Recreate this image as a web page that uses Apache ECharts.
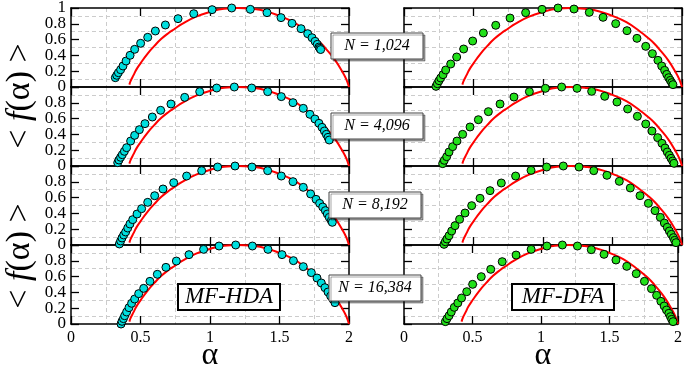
<!DOCTYPE html>
<html><head><meta charset="utf-8">
<script src="https://cdn.jsdelivr.net/npm/echarts@6/dist/echarts.min.js"></script>
<style>html,body{margin:0;padding:0;background:#fff}#c{width:685px;height:375px}</style>
</head><body><div id="c"></div>
<script>
// Theoretical curve (red)
const redAlpha = [0.42,0.43,0.45,0.47,0.5,0.55,0.6,0.65,0.7,0.75,0.8,0.9,1.0,1.1,1.2,1.3,1.4,1.5,1.6,1.7,1.75,1.8,1.85,1.9,1.95,1.98,2.0];
const redF     = [0.03,0.08,0.15,0.22,0.30,0.42,0.52,0.61,0.68,0.74,0.80,0.89,0.95,0.99,1.0,0.99,0.96,0.90,0.82,0.70,0.63,0.55,0.45,0.34,0.20,0.10,0.0];

// MF-HDA (cyan)
const hda1024A = [0.319,0.329,0.341,0.357,0.374,0.396,0.425,0.458,0.501,0.552,0.607,0.679,0.770,0.883,1.015,1.156,1.290,1.410,1.511,1.590,1.655,1.703,1.734,1.756,1.772,1.784,1.790,1.796];
const hda1024F = [0.118,0.148,0.181,0.219,0.266,0.329,0.401,0.477,0.553,0.629,0.709,0.785,0.865,0.928,0.979,1.0,0.983,0.941,0.878,0.806,0.738,0.675,0.624,0.578,0.540,0.506,0.490,0.474];
const hda4096A = [0.336,0.345,0.357,0.369,0.384,0.400,0.429,0.458,0.492,0.532,0.585,0.645,0.719,0.818,0.926,1.048,1.175,1.300,1.415,1.513,1.597,1.671,1.719,1.755,1.784,1.806,1.823,1.837,1.849,1.858];
const hda4096F = [0.042,0.076,0.110,0.143,0.186,0.232,0.316,0.388,0.460,0.536,0.620,0.705,0.785,0.869,0.941,0.987,1.0,0.987,0.941,0.878,0.802,0.730,0.654,0.595,0.540,0.489,0.443,0.401,0.363,0.329];
const hda8192A = [0.348,0.357,0.367,0.379,0.393,0.408,0.424,0.444,0.475,0.508,0.552,0.602,0.662,0.739,0.832,0.940,1.055,1.180,1.302,1.415,1.513,1.597,1.671,1.724,1.763,1.789,1.811,1.830,1.844,1.858,1.873,1.880];
const hda8192F = [0.013,0.051,0.089,0.127,0.165,0.215,0.266,0.321,0.392,0.460,0.540,0.624,0.709,0.789,0.873,0.941,0.987,1.0,0.987,0.941,0.873,0.802,0.730,0.646,0.578,0.527,0.481,0.435,0.392,0.350,0.308,0.287];
const hda16384A = [0.360,0.367,0.377,0.386,0.400,0.417,0.436,0.458,0.487,0.523,0.568,0.621,0.683,0.758,0.849,0.954,1.065,1.185,1.305,1.417,1.518,1.600,1.671,1.729,1.770,1.801,1.827,1.849,1.868,1.885,1.899];
const hda16384F = [0.0,0.034,0.068,0.105,0.152,0.207,0.262,0.316,0.384,0.451,0.540,0.629,0.717,0.797,0.878,0.945,0.987,1.0,0.987,0.945,0.878,0.802,0.726,0.650,0.582,0.519,0.460,0.405,0.354,0.312,0.270];

// MF-DFA (green)
const dfa1024A = [0.230,0.240,0.252,0.264,0.281,0.300,0.336,0.379,0.429,0.494,0.571,0.660,0.763,0.875,0.993,1.108,1.223,1.333,1.432,1.523,1.604,1.676,1.739,1.787,1.827,1.854,1.875,1.890,1.904,1.916,1.926,1.935];
const dfa1024F = [0.008,0.042,0.080,0.114,0.156,0.215,0.291,0.380,0.481,0.582,0.684,0.781,0.873,0.941,0.983,1.0,0.987,0.945,0.882,0.802,0.713,0.616,0.515,0.422,0.338,0.266,0.211,0.160,0.118,0.084,0.055,0.030];
const dfa4096A = [0.278,0.290,0.307,0.324,0.350,0.381,0.422,0.475,0.535,0.607,0.691,0.791,0.902,1.017,1.134,1.245,1.350,1.444,1.532,1.609,1.679,1.739,1.784,1.825,1.856,1.878,1.894,1.909,1.921,1.933,1.942];
const dfa4096F = [0.030,0.072,0.118,0.177,0.245,0.316,0.401,0.494,0.586,0.688,0.785,0.873,0.941,0.983,1.0,0.983,0.945,0.882,0.810,0.722,0.629,0.532,0.443,0.359,0.287,0.228,0.177,0.135,0.097,0.063,0.034];
const dfa8192A = [0.288,0.297,0.309,0.324,0.343,0.367,0.400,0.439,0.487,0.547,0.619,0.700,0.803,0.914,1.026,1.146,1.259,1.365,1.460,1.549,1.628,1.698,1.758,1.806,1.844,1.873,1.894,1.909,1.923,1.938,1.947,1.957];
const dfa8192F = [0.008,0.042,0.076,0.118,0.177,0.245,0.325,0.405,0.498,0.591,0.688,0.785,0.873,0.945,0.987,1.0,0.987,0.941,0.882,0.806,0.722,0.624,0.527,0.435,0.350,0.278,0.224,0.177,0.135,0.093,0.059,0.030];
const dfa16384A = [0.302,0.314,0.329,0.345,0.367,0.393,0.420,0.458,0.501,0.564,0.633,0.717,0.818,0.928,1.043,1.156,1.266,1.367,1.460,1.547,1.626,1.695,1.755,1.806,1.844,1.875,1.899,1.916,1.933,1.945,1.954,1.964];
const dfa16384F = [0.030,0.068,0.105,0.152,0.211,0.266,0.329,0.409,0.502,0.599,0.692,0.789,0.873,0.945,0.987,1.0,0.987,0.941,0.882,0.810,0.730,0.637,0.540,0.447,0.363,0.287,0.228,0.177,0.135,0.093,0.059,0.030];

// Tick labels
const yTickValues = [0, 0.2, 0.4, 0.6, 0.8, 1];
const yTickLabels = ['0', '0.2', '0.4', '0.6', '0.8', '1'];

const sizeLabels = ['N = 1,024','N = 4,096','N = 8,192','N = 16,384'];
const methodLabels = ['MF-HDA','MF-DFA'];
const xLabelText = 'α';

const columns = [
  {color:'#00dede', sets:[[hda1024A,hda1024F],[hda4096A,hda4096F],[hda8192A,hda8192F],[hda16384A,hda16384F]]},
  {color:'#22e01a', sets:[[dfa1024A,dfa1024F],[dfa4096A,dfa4096F],[dfa8192A,dfa8192F],[dfa16384A,dfa16384F]]}
];
const zip = (a,b)=>a.map((v,i)=>[v,b[i]]);

const FONT = 'Liberation Serif';
const LEFTS = [71,404], TOP0 = 8, H = 79, W = 278;
const grids=[], xAxes=[], yAxes=[], series=[];
const lineCol = {color:'#000', width:1.5};
const tick = {show:true, inside:true, length:8, lineStyle:{color:'#000', width:1.3}};
const minorGrid = {show:true, lineStyle:{color:'#cccccc', width:1, type:[4,3]}};

for (let c=0;c<2;c++){
  for (let r=0;r<4;r++){
    const gi = grids.length;
    grids.push({left:LEFTS[c], top:TOP0+r*H, width:W, height:H});
    xAxes.push({type:'value', gridIndex:gi, position:'bottom', min:0, max:2, interval:0.5,
      axisLine:{show:true, onZero:false, lineStyle:lineCol}, axisTick:tick,
      minorTick:{show:true, splitNumber:2, length:0}, minorSplitLine:minorGrid,
      splitLine:{show:false},
      axisLabel:{show:r===3, showMinLabel:true, showMaxLabel:true, hideOverlap:false,
        fontFamily:FONT, fontSize:16, color:'#000', margin:6,
        formatter:v=>String(Math.round(v*10)/10)}});
    xAxes.push({type:'value', gridIndex:gi, position:'top', min:0, max:2, interval:0.5,
      axisLine:{show:true, onZero:false, lineStyle:lineCol}, axisTick:tick,
      splitLine:{show:false}, axisLabel:{show:false}});
    yAxes.push({type:'value', gridIndex:gi, position:'left', min:0, max:1, interval:0.2,
      axisLine:{show:true, onZero:false, lineStyle:lineCol}, axisTick:tick,
      minorTick:{show:true, splitNumber:2, length:0}, minorSplitLine:minorGrid,
      splitLine:{show:false}, axisLabel:{show:false}});
    yAxes.push({type:'value', gridIndex:gi, position:'right', min:0, max:1, interval:0.2,
      axisLine:{show:true, onZero:false, lineStyle:lineCol}, axisTick:tick,
      splitLine:{show:false}, axisLabel:{show:false}});
    series.push({type:'line', xAxisIndex:2*gi, yAxisIndex:2*gi, data:zip(redAlpha,redF),
      smooth:true, showSymbol:false, lineStyle:{color:'#ff0000', width:2}, z:2, silent:true});
    const s = columns[c].sets[r];
    series.push({type:'scatter', xAxisIndex:2*gi, yAxisIndex:2*gi, data:zip(s[0],s[1]),
      symbolSize:8, itemStyle:{color:columns[c].color, borderColor:'#000', borderWidth:1, opacity:1}, z:3, silent:true});
  }
}

const chart = echarts.init(document.getElementById('c'), null, {renderer:'canvas'});
chart.setOption({animation:false, backgroundColor:'#fff', grid:grids, xAxis:xAxes, yAxis:yAxes, series:series});

const graphics = [];
// y tick labels for left column, placed through the axis scale
for (let r=0;r<4;r++){
  yTickValues.forEach((v,k)=>{
    if (r>0 && v===1) return;
    const p = chart.convertToPixel({gridIndex:r}, [0, v]);
    graphics.push({type:'text', x:p[0]-5, y:p[1], z:10,
      style:{text:yTickLabels[k], font:'17px "Liberation Serif"', fill:'#000', align:'right', verticalAlign:'middle'}});
  });
}
// y-axis names
[96, 256].forEach(cy=>{
  graphics.push({type:'text', x:20, y:cy, rotation:Math.PI/2, z:10,
    style:{text:'< {i|f}(α) >', font:'34px "Liberation Serif"', fill:'#000', align:'center', verticalAlign:'middle',
      rich:{i:{fontStyle:'italic', fontSize:34, fontFamily:FONT}}}});
});
// x-axis names
[LEFTS[0]+W/2, LEFTS[1]+W/2].forEach(cx=>{
  graphics.push({type:'text', x:cx, y:356, z:10,
    style:{text:xLabelText, font:'32px "Liberation Serif"', fill:'#000', align:'center', verticalAlign:'middle'}});
});
// N boxes
const boxY = [33, 113, 192, 275];
const boxX = [331, 331, 329, 329];
sizeLabels.forEach((t,i)=>{
  graphics.push({type:'rect', shape:{x:boxX[i], y:boxY[i], width:92, height:26}, z:20,
    style:{fill:'#fff', stroke:'#444', lineWidth:1, shadowColor:'rgba(0,0,0,0.35)', shadowOffsetX:2, shadowOffsetY:2}});
  graphics.push({type:'text', x:boxX[i]+46, y:boxY[i]+13, z:21,
    style:{text:t, font:'italic 16px "Liberation Serif"', fill:'#000', align:'center', verticalAlign:'middle'}});
});
// method boxes
[[178,284],[512,284]].forEach((p,i)=>{
  graphics.push({type:'rect', shape:{x:p[0], y:p[1], width:102, height:26}, z:20,
    style:{fill:'#fff', stroke:'#000', lineWidth:2}});
  graphics.push({type:'text', x:p[0]+51, y:p[1]+13, z:21,
    style:{text:methodLabels[i], font:'italic 23px "Liberation Serif"', fill:'#000', align:'center', verticalAlign:'middle'}});
});
chart.setOption({graphic:graphics});
</script></body></html>
